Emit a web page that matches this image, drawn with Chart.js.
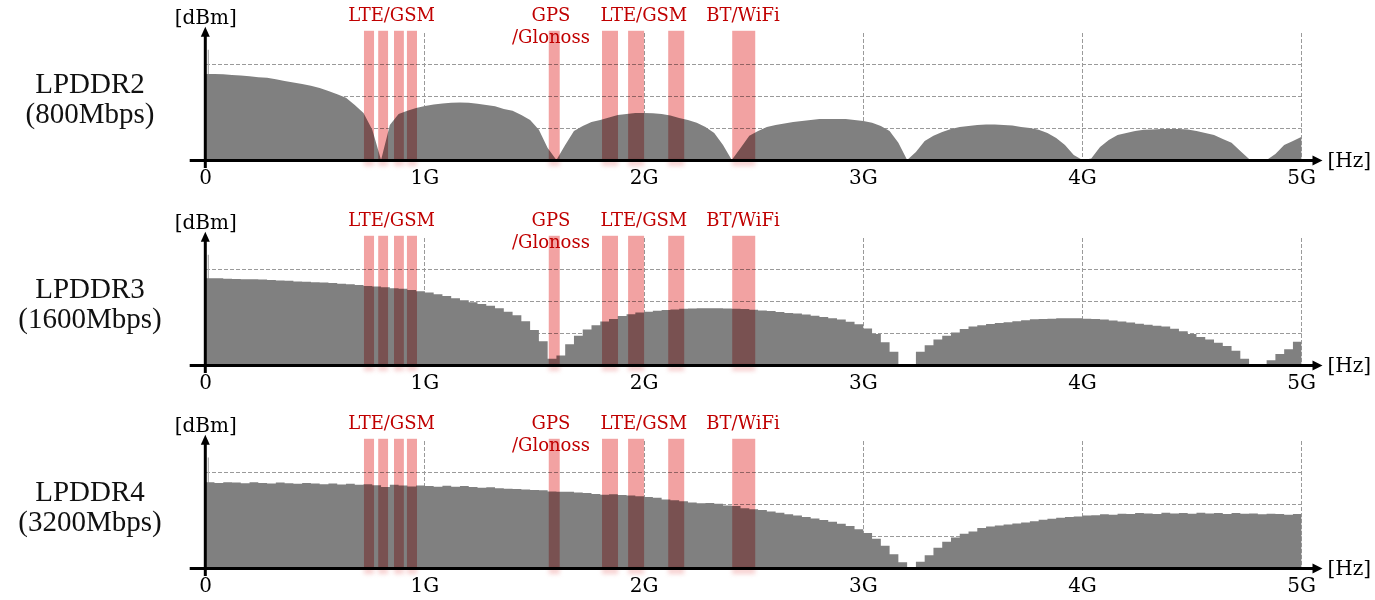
<!DOCTYPE html>
<html>
<head>
<meta charset="utf-8">
<script src="https://cdn.jsdelivr.net/npm/chart.js@4.4.1/dist/chart.umd.min.js"></script>
<style>
  html, body { margin: 0; padding: 0; background: #fff; overflow: hidden; }
  .panel { position: absolute; left: 0; width: 1375px; height: 200px; }
</style>
</head>
<body>
<div class="panel" style="top:0"><canvas id="c0" width="1375" height="200"></canvas></div>
<div class="panel" style="top:205px"><canvas id="c1" width="1375" height="200"></canvas></div>
<div class="panel" style="top:408px"><canvas id="c2" width="1375" height="200"></canvas></div>
<script>
// spectrum sampled every 0.04 GHz starting at 0
const BIN = 0.04;
const TICKS = [0, 1, 2, 3, 4, 5];
const TICK_LABELS = ["0", "1G", "2G", "3G", "4G", "5G"];
const PANEL_NAMES = ["LPDDR2", "LPDDR3", "LPDDR4"];
const PANEL_RATES = ["(800Mbps)", "(1600Mbps)", "(3200Mbps)"];
const DC_SPIKE = [3.47, 3.47, 3.48];
const STEPPED = [false, true, true];

// interference bands [from, to] in GHz
const BANDS = [
  [0.722, 0.768], [0.787, 0.832], [0.859, 0.904], [0.918, 0.964],
  [1.565, 1.615],
  [1.808, 1.881], [1.927, 2.0], [2.11, 2.183],
  [2.402, 2.507]
];
const BAND_LABELS = [
  { text: ["LTE/GSM"], at: 0.848 },
  { text: ["GPS", "/Glonoss"], at: 1.575 },
  { text: ["LTE/GSM"], at: 1.999 },
  { text: ["BT/WiFi"], at: 2.451 }
];

// LPDDR2: sampled at 0, 0.04 ... 5.00 (126 points)
const LPDDR2 = [
  2.71, 2.71, 2.70, 2.68, 2.66, 2.64, 2.61, 2.59, 2.54, 2.49, 2.44, 2.39, 2.34, 2.27, 2.17, 2.07, 1.96, 1.73, 1.48, 0.95,
  0.00, 1.10, 1.45, 1.55, 1.64, 1.70, 1.75, 1.78, 1.80, 1.81, 1.80, 1.77, 1.73, 1.69, 1.61, 1.55, 1.42, 1.26, 0.95, 0.38,
  0.00, 0.47, 0.91, 1.07, 1.20, 1.26, 1.34, 1.42, 1.45, 1.48, 1.48, 1.47, 1.45, 1.40, 1.32, 1.26, 1.17, 1.04, 0.85, 0.47,
  0.00, 0.38, 0.76, 0.91, 1.04, 1.10, 1.15, 1.20, 1.23, 1.26, 1.29, 1.29, 1.29, 1.29, 1.26, 1.23, 1.17, 1.07, 0.91, 0.54,
  0.00, 0.25, 0.60, 0.76, 0.88, 0.98, 1.04, 1.07, 1.10, 1.12, 1.12, 1.10, 1.09, 1.04, 1.01, 0.95, 0.85, 0.69, 0.47, 0.16,
  0.00, 0.05, 0.41, 0.63, 0.79, 0.85, 0.91, 0.95, 0.96, 0.98, 0.98, 0.98, 0.96, 0.91, 0.85, 0.79, 0.66, 0.54, 0.28, 0.03,
  0.00, 0.00, 0.19, 0.47, 0.60, 0.73
];
// LPDDR3 / LPDDR4: one value per 0.04 GHz bin (125 bins)
const LPDDR3 = [
  2.73, 2.73, 2.72, 2.71, 2.70, 2.70, 2.69, 2.68, 2.66, 2.65, 2.63, 2.62, 2.61, 2.60, 2.58, 2.56, 2.54, 2.52, 2.49, 2.47,
  2.45, 2.42, 2.40, 2.36, 2.32, 2.28, 2.23, 2.17, 2.10, 2.04, 1.98, 1.92, 1.87, 1.79, 1.68, 1.57, 1.38, 1.10, 0.75, 0.20,
  0.30, 0.65, 0.92, 1.12, 1.25, 1.37, 1.45, 1.54, 1.60, 1.65, 1.68, 1.71, 1.73, 1.75, 1.77, 1.78, 1.79, 1.79, 1.79, 1.78,
  1.77, 1.76, 1.74, 1.72, 1.70, 1.67, 1.64, 1.62, 1.59, 1.55, 1.51, 1.47, 1.43, 1.36, 1.28, 1.15, 0.98, 0.72, 0.42, 0.02,
  0.02, 0.42, 0.62, 0.80, 0.92, 1.02, 1.13, 1.21, 1.25, 1.29, 1.32, 1.35, 1.38, 1.41, 1.44, 1.45, 1.46, 1.47, 1.47, 1.47,
  1.46, 1.45, 1.43, 1.40, 1.37, 1.34, 1.30, 1.27, 1.24, 1.21, 1.14, 1.06, 0.98, 0.88, 0.80, 0.70, 0.60, 0.45, 0.20, 0.02,
  0.02, 0.15, 0.35, 0.50, 0.73
];
const LPDDR4 = [
  2.70, 2.68, 2.70, 2.69, 2.67, 2.70, 2.68, 2.66, 2.69, 2.67, 2.65, 2.68, 2.66, 2.64, 2.66, 2.63, 2.65, 2.62, 2.64, 2.61,
  2.55, 2.62, 2.60, 2.57, 2.60, 2.58, 2.56, 2.59, 2.56, 2.58, 2.55, 2.53, 2.54, 2.51, 2.50, 2.49, 2.47, 2.46, 2.45, 2.41,
  2.40, 2.40, 2.38, 2.36, 2.33, 2.31, 2.32, 2.30, 2.28, 2.26, 2.24, 2.21, 2.16, 2.13, 2.10, 2.06, 2.04, 2.05, 2.02, 1.97,
  1.95, 1.88, 1.85, 1.83, 1.78, 1.74, 1.69, 1.65, 1.61, 1.56, 1.51, 1.46, 1.39, 1.32, 1.22, 1.10, 0.92, 0.70, 0.43, 0.18,
  0.00, 0.20, 0.40, 0.64, 0.83, 0.96, 1.08, 1.15, 1.26, 1.31, 1.34, 1.37, 1.40, 1.43, 1.47, 1.52, 1.55, 1.58, 1.61, 1.62,
  1.65, 1.66, 1.69, 1.68, 1.71, 1.70, 1.73, 1.72, 1.70, 1.74, 1.72, 1.73, 1.71, 1.74, 1.72, 1.73, 1.70, 1.73, 1.71, 1.72,
  1.69, 1.71, 1.70, 1.68, 1.70
];
const SERIES = [LPDDR2, LPDDR3, LPDDR4];

const GRID = "#9a9a9a";
const NONE = "rgba(0,0,0,0)";

function arrow(ctx, tipX, tipY, dir) {
  ctx.beginPath();
  if (dir === "up") {
    ctx.moveTo(tipX, tipY);
    ctx.lineTo(tipX - 4.5, tipY + 10);
    ctx.lineTo(tipX + 4.5, tipY + 10);
  } else {
    ctx.moveTo(tipX, tipY);
    ctx.lineTo(tipX - 10, tipY - 5);
    ctx.lineTo(tipX - 10, tipY + 5);
  }
  ctx.closePath();
  ctx.fill();
}

function decor(k) {
  return {
    id: "decor" + k,
    afterDatasetsDraw(chart) {
      const { ctx, scales: { x, y } } = chart;
      const base = y.getPixelForValue(0);
      const top = y.getPixelForValue(4.07);

      // red bands, multiplied over the spectrum
      ctx.save();
      ctx.globalCompositeOperation = "multiply";
      ctx.fillStyle = "#f2a2a2";
      for (const [f0, f1] of BANDS) {
        const x0 = x.getPixelForValue(f0), x1 = x.getPixelForValue(f1);
        ctx.fillRect(x0, top, x1 - x0, base - top);
      }
      ctx.filter = "blur(2px)";
      ctx.fillStyle = "rgba(240,170,170,0.55)";
      for (const [f0, f1] of BANDS) {
        const x0 = x.getPixelForValue(f0), x1 = x.getPixelForValue(f1);
        ctx.fillRect(x0, base, x1 - x0, 6);
      }
      ctx.restore();

      // axes with arrows
      ctx.save();
      ctx.strokeStyle = "#000";
      ctx.fillStyle = "#000";
      ctx.lineWidth = 3;
      const ax = x.getPixelForValue(0) - 0.4;
      const xEnd = x.getPixelForValue(5.095);
      ctx.beginPath();
      ctx.moveTo(x.getPixelForValue(-0.073), base + 0.5);
      ctx.lineTo(xEnd - 8, base + 0.5);
      ctx.stroke();
      arrow(ctx, xEnd, base + 0.5, "right");
      const yTip = y.getPixelForValue(4.2);
      ctx.beginPath();
      ctx.moveTo(ax, base + 8);
      ctx.lineTo(ax, yTip + 8);
      ctx.stroke();
      arrow(ctx, ax, yTip, "up");

      // axis units
      ctx.textBaseline = "middle";
      ctx.font = "20px 'DejaVu Serif'";
      ctx.textAlign = "center";
      ctx.fillText("[dBm]", ax + 0.5, 19);
      ctx.textAlign = "left";
      ctx.fillText("[Hz]", xEnd + 5, base + 2);

      // band labels
      ctx.fillStyle = "#c00000";
      ctx.font = "18px 'DejaVu Serif'";
      ctx.textAlign = "center";
      for (const b of BAND_LABELS) {
        b.text.forEach((t, i) => ctx.fillText(t, x.getPixelForValue(b.at), 16.5 + i * 21.5));
      }

      // memory type label
      ctx.fillStyle = "#111";
      ctx.font = "29px 'Liberation Serif'";
      ctx.fillText(PANEL_NAMES[k], 90, 85);
      ctx.fillText(PANEL_RATES[k], 90, 115);
      ctx.restore();
    }
  };
}

function makeChart(k) {
  const values = SERIES[k];
  const pts = values.map((v, i) => ({ x: i * BIN, y: v }));
  if (STEPPED[k]) pts.push({ x: 5, y: values[values.length - 1] });
  new Chart(document.getElementById("c" + k), {
    type: "line",
    data: {
      datasets: [
        {
          data: pts,
          // true = each value holds until the next bin start
          stepped: STEPPED[k],
          fill: "origin",
          backgroundColor: "#808080",
          borderWidth: 0,
          pointRadius: 0,
          tension: 0
        },
        {
          data: [{ x: 0.012, y: 0 }, { x: 0.012, y: DC_SPIKE[k] }],
          borderColor: "#b0b0b0",
          borderWidth: 1.3,
          pointRadius: 0,
          fill: false
        }
      ]
    },
    options: {
      responsive: false,
      animation: false,
      events: [],
      layout: { padding: { left: 205.7, right: 1375 - 1301.7, top: 33, bottom: 0 } },
      plugins: { legend: { display: false }, tooltip: { enabled: false } },
      scales: {
        x: {
          type: "linear",
          min: 0,
          max: 5,
          afterBuildTicks: (s) => { s.ticks = TICKS.map((v) => ({ value: v })); },
          afterFit: (s) => { s.height = 40; },
          ticks: {
            callback: (v) => TICK_LABELS[TICKS.indexOf(v)],
            font: { family: "DejaVu Serif", size: 20 },
            color: "#000",
            padding: 7,
            maxRotation: 0,
            autoSkip: false
          },
          grid: {
            color: (c) => (c.tick && c.tick.value === 0 ? NONE : GRID),
            lineWidth: 1,
            drawTicks: false
          },
          border: { display: false, dash: [4, 2] }
        },
        y: {
          min: 0,
          max: 4,
          afterFit: (s) => { s.width = 0; },
          ticks: { display: false, stepSize: 1 },
          grid: {
            color: (c) => (c.tick && c.tick.value > 0 && c.tick.value < 4 ? GRID : NONE),
            lineWidth: 1,
            drawTicks: false
          },
          border: { display: false, dash: [4, 2] }
        }
      }
    },
    plugins: [decor(k)]
  });
}

[0, 1, 2].forEach(makeChart);
</script>
</body>
</html>
